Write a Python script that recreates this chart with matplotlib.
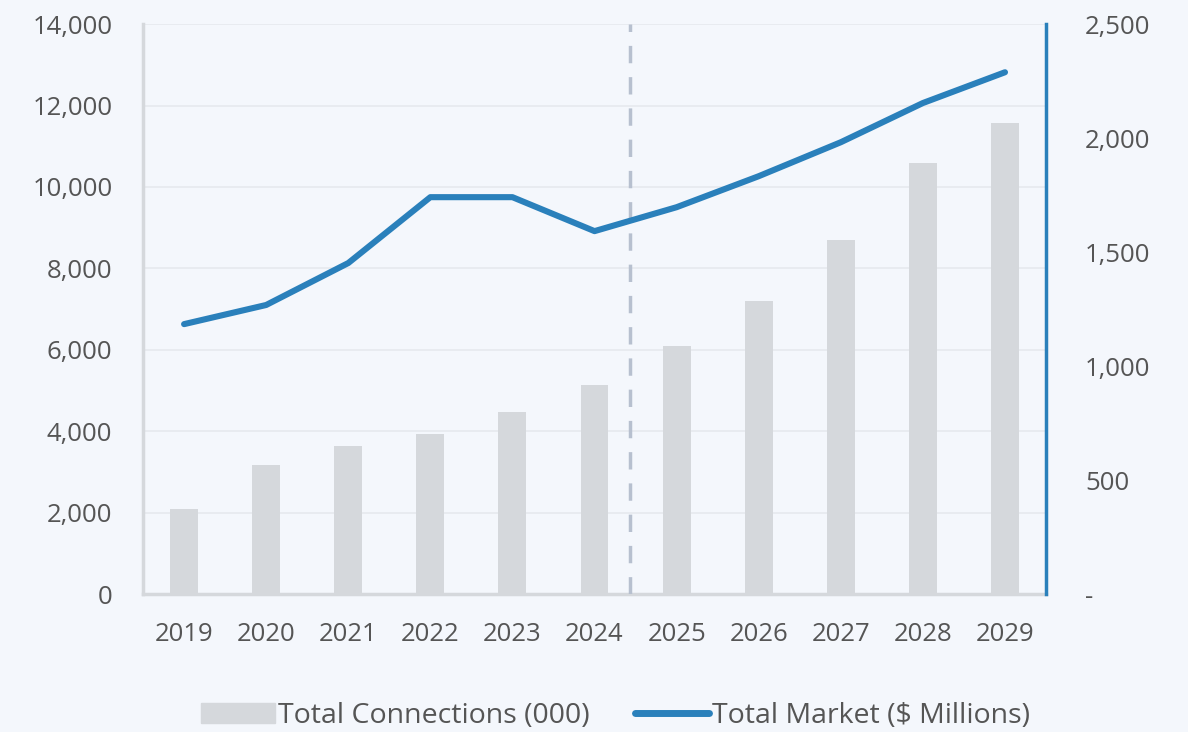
import numpy as np
import matplotlib.pyplot as plt
from matplotlib.ticker import FuncFormatter

years = ["2019", "2020", "2021", "2022", "2023", "2024",
         "2025", "2026", "2027", "2028", "2029"]
connections = [2100, 3160, 3630, 3930, 4470, 5130, 6100, 7190, 8690, 10590, 11580]
market = [1184, 1268, 1452, 1741, 1741, 1592, 1697, 1833, 1982, 2154, 2289]

plt.rcParams['font.family'] = ['Open Sans', 'DejaVu Sans']
txt = "#555555"
blue = "#2a80bb"
bar_c = "#d5d8dc"

fig = plt.figure(figsize=(11.88, 7.32), dpi=100)
fig.patch.set_facecolor("#f4f7fc")
ax = fig.add_axes([0.1204, 0.1885, 0.7601, 0.7785])
ax.set_facecolor("none")
x = np.arange(len(years))

ax.bar(x, connections, width=0.34, color=bar_c, zorder=2)
ax.set_xlim(-0.5, len(years) - 0.5)
ax.set_ylim(0, 14000)
ax.set_yticks(range(0, 14001, 2000))
ax.yaxis.set_major_formatter(FuncFormatter(lambda v, p: f"{int(v):,}"))
ax.grid(axis="y", color="#e6e9ee", linewidth=1.2, zorder=0)
ax.set_xticks(x)
ax.set_xticklabels(years)
ax.tick_params(axis="both", length=0, labelsize=18.5, colors=txt)
ax.tick_params(axis="y", pad=22)
ax.tick_params(axis="x", pad=20)
for s in ["top", "right"]:
    ax.spines[s].set_visible(False)
for s in ["left", "bottom"]:
    ax.spines[s].set_color(bar_c)
    ax.spines[s].set_linewidth(2.5)

ax.axvline(5.43, color="#b7c0cf", linestyle=(0, (5, 4)), linewidth=2.5, zorder=3)

ax2 = ax.twinx()
ax2.plot(x, market, color=blue, linewidth=4.4, solid_capstyle="round", zorder=4)
ax2.set_ylim(0, 2500)
ax2.set_yticks(range(0, 2501, 500))
ax2.yaxis.set_major_formatter(FuncFormatter(lambda v, p: "-" if v == 0 else f"{int(v):,}"))
ax2.tick_params(axis="y", length=0, labelsize=18.5, colors=txt, pad=28)
for s in ["top", "left", "bottom"]:
    ax2.spines[s].set_visible(False)
ax2.spines["right"].set_color(blue)
ax2.spines["right"].set_linewidth(2.5)

h1 = plt.Rectangle((0, 0), 1, 1, color=bar_c)
h2 = plt.Line2D([0], [0], color=blue, linewidth=5, solid_capstyle="round")
fig.legend([h1, h2], ["Total Connections (000)", "Total Market ($ Millions)"],
           loc="lower center", bbox_to_anchor=(0.518, -0.032), ncol=2, frameon=False,
           fontsize=20.5, labelcolor=txt, handlelength=2.6, handletextpad=0.1,
           columnspacing=1.6)

fig.savefig("out.png", dpi=100, facecolor=fig.get_facecolor())
